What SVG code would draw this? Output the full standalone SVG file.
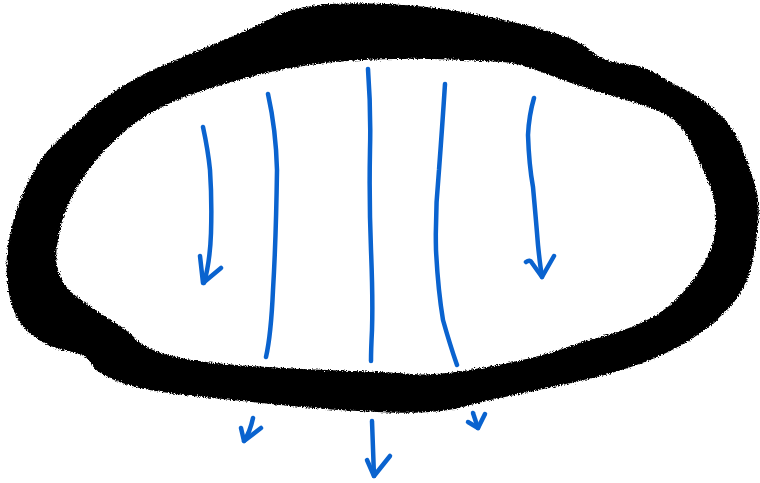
<svg xmlns="http://www.w3.org/2000/svg" width="760" height="483" viewBox="0 0 760 483">
  <style>
    .ring { fill: #000; fill-rule: evenodd; stroke: #000; stroke-width: 2; stroke-linejoin: round; }
    .flow { fill: none; stroke: #0a63cf; stroke-width: 4.5; stroke-linecap: round; stroke-linejoin: round; }
  </style>
  <defs>
    <filter id="rough" x="-5%" y="-5%" width="110%" height="110%">
      <feTurbulence type="fractalNoise" baseFrequency="0.7" numOctaves="2" seed="3" result="n"/>
      <feDisplacementMap in="SourceGraphic" in2="n" scale="5" xChannelSelector="R" yChannelSelector="G"/>
    </filter>
  </defs>
  <rect width="760" height="483" fill="#fff"/>
  <g id="loop" filter="url(#rough)">
    <path class="ring" d="M249.5,30 Q271,20 281,15 Q291,10 315,6.5 Q339,3 387.5,5 Q436,7 484.5,17 Q533,27 557.5,35 Q582,43 591.5,52.5 Q601,62 623,64.5 Q645,67 657,75 Q669,83 686,91.5 Q703,100 717.5,113.5 Q732,127 739,143.5 Q746,160 752.5,180 Q759,200 757.5,220 Q756,240 751,263.5 Q746,287 731.5,303.5 Q717,320 698,333.5 Q679,347 654.5,357 Q630,367 606,373.5 Q582,380 533.5,390 Q485,400 460.5,406.5 Q436,413 387.5,411.5 Q339,410 290.5,405 Q242,400 193.5,395 Q145,390 121,381.5 Q97,373 92,363 Q87,353 67.5,350 Q48,347 31.5,333.5 Q15,320 10,293.5 Q5,267 10,240 Q15,213 27,186.5 Q39,160 56,143.5 Q73,127 92,110 Q111,93 135.5,80 Q160,67 194,53.5 Q228,40 249.5,30 Z
      M201.5,90 Q233,80 259.5,73.5 Q286,67 312.5,63.5 Q339,60 375.5,58.5 Q412,57 448.5,58.5 Q485,60 502,61 Q519,62 545.5,72.5 Q572,83 601,91.5 Q630,100 649.5,106.5 Q669,113 678.5,123 Q688,133 695.5,150 Q703,167 710,183.5 Q717,200 717,220 Q717,240 707.5,258.5 Q698,277 683.5,293.5 Q669,310 649.5,320 Q630,330 610.5,335 Q591,340 562,350 Q533,360 484.5,368.5 Q436,377 412,375 Q388,373 339.5,371.5 Q291,370 242.5,366.5 Q194,363 169.5,356.5 Q145,350 135.5,340 Q126,330 111.5,321.5 Q97,313 75,296.5 Q53,280 55.5,250 Q58,220 72.5,193.5 Q87,167 106.5,147 Q126,127 148,113.5 Q170,100 201.5,90 Z"/>
  </g>
  <g id="flow-lines">
    <g id="arrow-left">
      <path class="flow" d="M203,127 Q208,150 210,170 Q212,200 211,233 Q210,262 204,283"/>
      <path class="flow" d="M200,256 L203,283 L221,268"/>
    </g>
    <path id="line-2" class="flow" d="M268,94 Q276,130 277,170 Q276,240 273,290 Q271,335 266,357"/>
    <path id="line-center" class="flow" d="M368,69 Q371,110 370,150 Q369,200 371,250 Q373,300 372,330 Q371,350 371,361"/>
    <path id="line-4" class="flow" d="M445,84 Q442,130 439,170 Q435,210 436,250 Q438,290 443,320 Q450,345 457,365"/>
    <g id="arrow-right">
      <path class="flow" d="M534,98 Q529,115 528,135 Q529,165 533,187 Q536,220 538,245 Q540,265 542,277"/>
      <path class="flow" d="M526,262 Q530,259 532,263 L542,277 L554,256"/>
    </g>
    <g id="out-a">
      <path class="flow" d="M253,418 Q250,432 244,441"/>
      <path class="flow" d="M241,428 L244,441 L261,428"/>
    </g>
    <g id="out-b">
      <path class="flow" d="M372,421 Q373,450 374,476"/>
      <path class="flow" d="M367,460 L374,476 L390,456"/>
    </g>
    <g id="out-c">
      <path class="flow" d="M473,413 L478,428"/>
      <path class="flow" d="M468,422 L478,428 L485,414"/>
    </g>
  </g>
</svg>
